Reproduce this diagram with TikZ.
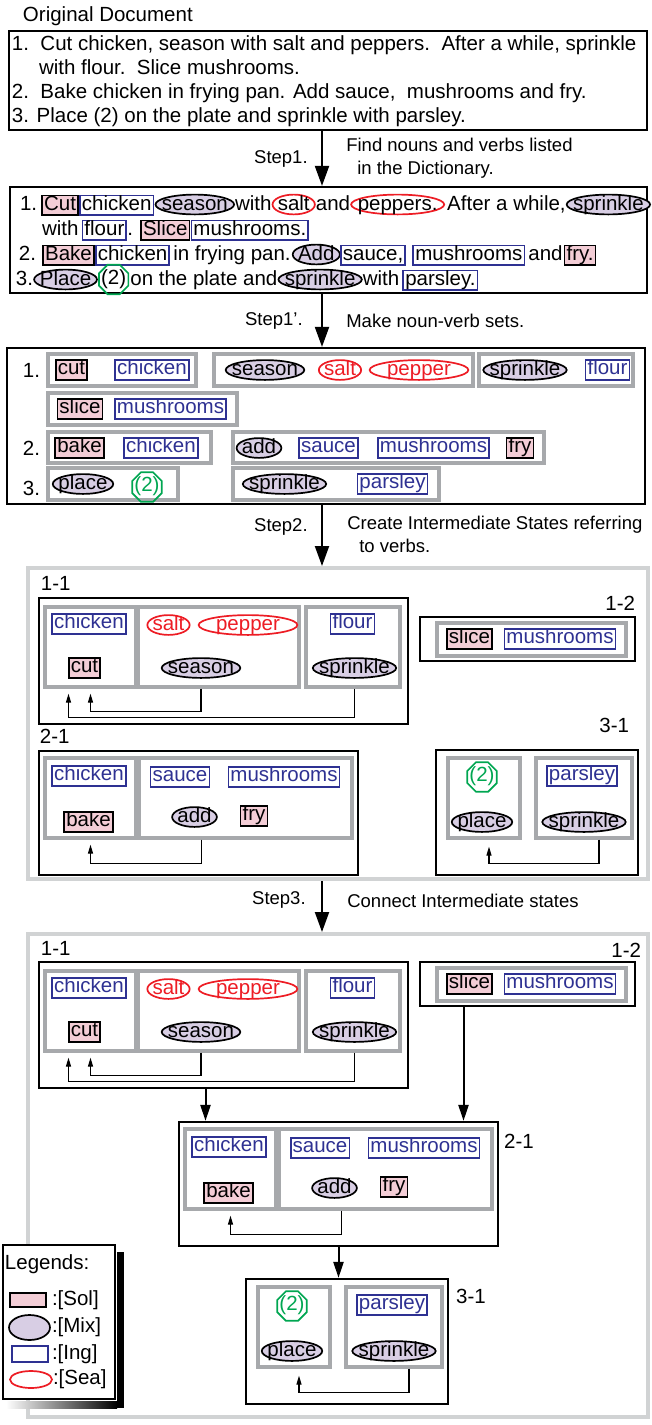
\documentclass[tikz,border=0pt]{standalone}
\usepackage{fontspec}
\setmainfont{Liberation Sans}
\usetikzlibrary{shapes.geometric, arrows.meta, positioning}
\definecolor{solpink}{RGB}{243,205,214}
\definecolor{mixlav}{RGB}{216,206,228}
\definecolor{ingblue}{RGB}{46,49,146}
\definecolor{seared}{RGB}{237,28,36}
\definecolor{numgreen}{RGB}{0,166,81}
\definecolor{grpgray}{RGB}{167,169,172}
\definecolor{framegray}{RGB}{209,211,212}
\newcommand{\nar}[1]{\makebox[0.75\width]{#1}}
\newcommand{\stepfont}{\fontsize{18.5}{23}\selectfont}
\tikzset{
  doc/.style={rectangle, draw, line width=2.2pt, inner sep=0pt},
  panel/.style={rectangle, draw=framegray, line width=4pt, inner sep=0pt},
  stbox/.style={rectangle, draw, line width=2.2pt, inner sep=0pt},
  grp/.style={rectangle, draw=grpgray, line width=3.2pt, inner sep=0pt},
  sol/.style={rectangle, draw, line width=1.7pt, fill=solpink, inner xsep=2pt,
    inner ysep=0.5pt, text height=14pt, text depth=4.5pt, outer sep=0pt},
  ing/.style={rectangle, draw=ingblue, text=ingblue, line width=1.7pt, inner xsep=2pt,
    inner ysep=0.5pt, text height=14pt, text depth=4.5pt, outer sep=0pt},
  mix/.style={ellipse, draw, line width=1.7pt, fill=mixlav, inner xsep=3pt,
    inner ysep=0.5pt, text height=12pt, text depth=1pt, outer sep=0pt},
  sea/.style={ellipse, draw=seared, text=seared, line width=1.7pt, inner xsep=3pt,
    inner ysep=0.5pt, text height=12pt, text depth=1pt, outer sep=0pt},
  num/.style={regular polygon, regular polygon sides=8, draw=numgreen, text=numgreen,
    line width=1.7pt, inner sep=1pt, text height=13pt, text depth=4pt, outer sep=0pt},
  bk/.style={text=black},
  txt/.style={inner sep=0pt, outer sep=0pt},
  swatch/.style={inner sep=0pt, text height=0pt, text depth=0pt},
  sz/.style 2 args={minimum width=#1pt, minimum height=#2pt},
  bigarr/.style={-{Triangle[length=20pt, width=14pt]}, line width=2pt},
  midarr/.style={-{Triangle[length=16pt, width=10pt]}, line width=2pt},
  arr/.style={-{Triangle[length=9pt, width=5pt]}, line width=1.2pt},
}

\begin{document}
\begin{tikzpicture}[x=1pt, y=-1pt, font=\fontsize{20.5}{24}\selectfont]
  \useasboundingbox (0,0) rectangle (651,1425);
  \coordinate (axis) at (322,0);

  % Original document
  \node[txt, anchor=base west] (title) at (23,21) {Original Document};
  \node[doc, sz={638}{99}] (orig) at (328,80.5) {};
  \node[txt, anchor=base west] (a1) at (12,50) {1.\ \ Cut chicken, season with salt and peppers.\ \ After a while, sprinkle};
  \node[txt, anchor=base west] (a2) at (39,74) {with flour.\ \ Slice mushrooms.};
  \node[txt, anchor=base west] (a3) at (12,98) {2.\ \ Bake chicken in frying pan. Add sauce,\ \ mushrooms and fry.};
  \node[txt, anchor=base west] (a4) at (12,122) {3. Place (2) on the plate and sprinkle with parsley.};

  % Marked document
  \node[doc, sz={637}{106}] (para) at (328.5,240) {};
  \node[txt, anchor=base west] (b1) at (20,210) {1.};
  \node[sol, base right=5pt of b1] (bcut) {Cut};
  \node[ing, bk, base right=2pt of bcut] (bchk) {chicken};
  \node[mix, base right=2pt of bchk] (bsea) {\nar{season}};
  \node[txt, base right=1pt of bsea] (bwith) {with};
  \node[sea, bk, base right=1pt of bwith] (bsalt) {\nar{salt}};
  \node[txt, base right=1pt of bsalt] (band) {and};
  \node[sea, bk, base right=1pt of band] (bpep) {\nar{peppers.}};
  \node[txt, base right=3pt of bpep] (baft) {After a while,};
  \node[mix, base right=1pt of baft] (bspr) {\nar{sprinkle}};

  \node[txt, anchor=base west] (bwith2) at (42,235) {with};
  \node[ing, bk, base right=4pt of bwith2] (bflo) {flour};
  \node[txt, base right=1pt of bflo] (bdot) {.};
  \node[sol, base right=8pt of bdot] (bsli) {Slice};
  \node[ing, bk, base right=2pt of bsli] (bmus) {mushrooms.};

  \node[txt, anchor=base west] (b2) at (19,260) {2.};
  \node[sol, base right=7pt of b2] (bbak) {Bake};
  \node[ing, bk, base right=2pt of bbak] (bchk2) {chicken};
  \node[txt, base right=4pt of bchk2] (bin) {in frying pan.};
  \node[mix, base right=2pt of bin] (badd) {\nar{Add}};
  \node[ing, bk, base right=1pt of badd] (bsau) {sauce,};
  \node[ing, bk, base right=8pt of bsau] (bmus2) {mushrooms};
  \node[txt, base right=4pt of bmus2] (band2) {and};
  \node[sol, base right=2pt of band2] (bfry) {fry.};

  \node[txt, anchor=base west] (b3) at (16,285) {3.};
  \node[mix, base right=1pt of b3] (bpla) {\nar{Place}};
  \node[num, bk, right=2pt of bpla] (btwo) {\nar{(2)}};
  \coordinate (bc) at (btwo.east |- bpla.base);
  \node[txt, anchor=base west] (bon) at ([xshift=2pt]bc) {on the plate and};
  \node[mix, base right=1pt of bon] (bspr2) {\nar{sprinkle}};
  \node[txt, base right=1pt of bspr2] (bwith3) {with};
  \node[ing, bk, base right=4pt of bwith3] (bpar) {parsley.};

  % Noun-verb sets
  \node[doc, sz={638}{156}] (sets) at (326,426) {};
  \node[txt, anchor=base west] (c1) at (23,377) {1.};
  \node[grp, sz={148}{32}] (g1) at (122,370) {};
  \node[sol] (ccut) at (71.5,370) {cut};
  \node[ing] (cchk) at (152,370) {chicken};
  \node[grp, sz={259}{32}] (g2) at (343.5,370) {};
  \node[mix] (csea) at (265,370) {\nar{season}};
  \node[sea] (csalt) at (340,370) {\nar{salt}};
  \node[sea] (cpep) at (419,370) {pepper};
  \node[grp, sz={154}{32}] (g3) at (556,370) {};
  \node[mix] (cspr) at (525,370) {\nar{sprinkle}};
  \node[ing] (cflo) at (607.5,370) {flour};
  \node[grp, sz={189}{32}] (g4) at (142.5,409) {};
  \node[sol] (csli) at (80,409) {slice};
  \node[ing] (cmus) at (170.5,409) {mushrooms};
  \node[txt, anchor=base west] (c2) at (23,455) {2.};
  \node[grp, sz={163}{31}] (g5) at (129.5,447.5) {};
  \node[sol] (cbak) at (79.5,448) {bake};
  \node[ing] (cchk2) at (161,448) {chicken};
  \node[grp, sz={311}{31}] (g6) at (388.5,447.5) {};
  \node[mix] (cadd) at (259,448) {\nar{add}};
  \node[ing] (csau) at (328.5,448) {sauce};
  \node[ing] (cmus2) at (433.5,448) {mushrooms};
  \node[sol] (cfry) at (520,448) {fry};
  \node[txt, anchor=base west] (c3) at (23,495) {3.};
  \node[grp, sz={130}{32}] (g7) at (113,484) {};
  \node[mix] (cpla) at (83,484) {\nar{place}};
  \node[num] (ctwo) at (147,487) {\nar{(2)}};
  \node[grp, sz={206}{32}] (g8) at (336,484) {};
  \node[mix] (cspr2) at (284.5,484) {\nar{sprinkle}};
  \node[ing] (cpar) at (392.5,484) {parsley};

  % Frames for intermediate states
  \node[panel, sz={620}{311}] (fd) at (338,723.5) {};
  \node[panel, sz={620}{483}] (fe) at (338,1175.5) {};

  % State 1-1
  \foreach \p/\dx/\dy in {d/0/0, e/0/364} {
    \begin{scope}[shift={(\dx,\dy)}]
      \node[stbox, sz={369}{126}] (\p11) at (223.5,661) {};
      \node[grp, sz={91}{80}] (\p11a) at (90.5,647) {};
      \node[grp, sz={161}{80}] (\p11b) at (218.5,647) {};
      \node[grp, sz={94}{80}] (\p11c) at (353,647) {};
      \node[ing] (\p11chk) at (89,624) {chicken};
      \node[sol] (\p11cut) at (84.5,668) {cut};
      \node[sea] (\p11salt) at (168.5,625) {\nar{salt}};
      \node[sea] (\p11pep) at (248,625) {pepper};
      \node[mix] (\p11sea) at (201,668) {\nar{season}};
      \node[ing] (\p11flo) at (352.5,624) {flour};
      \node[mix] (\p11spr) at (354.5,668) {\nar{sprinkle}};
      \draw[arr] (\p11sea |- \p11b.south) -- ++(0,23) -| ([yshift=-5pt]\p11a.south);
      \draw[arr] (\p11spr |- \p11c.south) -- ++(0,29) -| ([xshift=-22pt, yshift=-5pt]\p11a.south);
    \end{scope}
  }

  % State 1-2
  \foreach \p/\dx/\dy in {d/0/0, e/0/345} {
    \begin{scope}[shift={(\dx,\dy)}]
      \node[stbox, sz={215}{44}] (\p12) at (527.5,639) {};
      \node[grp, sz={189}{33}] (\p12a) at (531.5,639.5) {};
      \node[sol] (\p12sli) at (469.5,639) {slice};
      \node[ing] (\p12mus) at (560,639) {mushrooms};
    \end{scope}
  }

  % State 2-1
  \foreach \p/\dx/\dy in {d/0/0, e/140/371} {
    \begin{scope}[shift={(\dx,\dy)}]
      \node[stbox, sz={319}{124}] (\p21) at (198.5,813) {};
      \node[grp, sz={91}{80}] (\p21a) at (90.5,798) {};
      \node[grp, sz={213}{80}] (\p21b) at (245.5,798) {};
      \node[ing] (\p21chk) at (89,776) {chicken};
      \node[sol] (\p21bak) at (88.5,822) {bake};
      \node[ing] (\p21sau) at (180,777) {sauce};
      \node[ing] (\p21mus) at (284,777) {mushrooms};
      \node[mix] (\p21add) at (194.5,817) {\nar{add}};
      \node[sol] (\p21fry) at (254,816) {fry};
      \draw[arr] ([xshift=-44pt]\p21b.south) -- ++(0,24) -| ([yshift=-5pt]\p21a.south);
    \end{scope}
  }

  % State 3-1
  \foreach \p/\dx/\dy in {d/0/0, e/-190/529} {
    \begin{scope}[shift={(\dx,\dy)}]
      \node[stbox, sz={202}{125}] (\p31) at (537,812.5) {};
      \node[grp, sz={72}{80}] (\p31a) at (484,798) {};
      \node[grp, sz={96}{80}] (\p31b) at (584,798) {};
      \node[num] (\p31two) at (482,777) {\nar{(2)}};
      \node[mix] (\p31pla) at (482,822) {\nar{place}};
      \node[ing] (\p31par) at (582,776) {parsley};
      \node[mix] (\p31spr) at (584,822) {\nar{sprinkle}};
      \draw[arr] ([xshift=15pt]\p31b.south) -- ++(0,24) -| ([xshift=5pt, yshift=-7pt]\p31a.south);
    \end{scope}
  }

  % State labels
  \node[txt, anchor=base west] (ld11) at ([xshift=3pt, yshift=6pt]d11.north west) {1-1};
  \node[txt, anchor=base east] (ld12) at ([xshift=-1pt, yshift=5pt]d12.north east) {1-2};
  \node[txt, anchor=base west] (ld21) at ([xshift=2pt, yshift=6pt]d21.north west) {2-1};
  \node[txt, anchor=base east] (ld31) at ([xshift=-10pt, yshift=16pt]d31.north east) {3-1};
  \node[txt, anchor=base west] (le11) at ([xshift=3pt, yshift=5pt]e11.north west) {1-1};
  \node[txt, anchor=base east] (le12) at ([xshift=5pt, yshift=3pt]e12.north east) {1-2};
  \node[txt, anchor=base west] (le21) at ([xshift=5pt, yshift=-28pt]e21.north east) {2-1};
  \node[txt, anchor=base west] (le31) at ([xshift=7pt, yshift=-26pt]e31.north east) {3-1};

  % Connections between states
  \coordinate (j1) at ([xshift=-18pt]e11.south);
  \coordinate (j2) at ([xshift=-64pt]e12.south);
  \draw[midarr] (j1) -- (j1 |- e21.north);
  \draw[midarr] (j2) -- (j2 |- e21.north);
  \draw[midarr] (e21.south) -- (e21.south |- e31.north);

  % Steps
  \draw[bigarr] (orig.south -| axis) -- (para.north -| axis)
    node[midway, left=10pt, font=\stepfont] (s1) {Step1.}
    node[midway, right=20pt, align=left, font=\stepfont] (s1d) {Find nouns and verbs listed\\\hspace*{11pt}in the Dictionary.};
  \draw[bigarr] (para.south -| axis) -- (sets.north -| axis)
    node[midway, left=15pt, font=\stepfont] (s1p) {Step1'.}
    node[midway, right=20pt, font=\stepfont] (s1pd) {Make noun-verb sets.};
  \draw[bigarr] (sets.south -| axis) -- (fd.north -| axis)
    node[pos=0.36, left=10pt, font=\stepfont] (s2) {Step2.}
    node[pos=0.48, right=21pt, align=left, font=\stepfont] (s2d) {Create Intermediate States referring\\\hspace*{12pt}to verbs.};
  \draw[bigarr] (fd.south -| axis) -- (fe.north -| axis)
    node[pos=0.38, left=12pt, font=\stepfont] (s3) {Step3.}
    node[pos=0.38, right=21pt, font=\stepfont] (s3d) {Connect Intermediate states};

  % Legends
  \node[doc, fill=white, line width=2pt, sz={112}{154}] (leg) at (59,1322) {};
  \fill ([xshift=1pt, yshift=-8pt]leg.north east) rectangle ([xshift=8pt, yshift=-8pt]leg.south east);
  \shade[left color=white, right color=black] ([xshift=4pt, yshift=-1pt]leg.south west) rectangle ([xshift=1pt, yshift=-8pt]leg.south east);
  \node[txt, anchor=base west] (legt) at ([xshift=3pt, yshift=-25pt]leg.north west) {Legends:};
  \node[sol, swatch, sz={36}{14}] (lsol) at (28,1300) {};
  \node[mix, swatch, sz={41}{25}] (lmix) at (29.5,1327.5) {};
  \node[ing, swatch, sz={36}{16}] (ling) at (30,1354) {};
  \node[sea, swatch, sz={42}{17}] (lsea) at (31,1379.5) {};
  \node[txt, right=6pt of lsol] (lsolt) {:[Sol]};
  \node[txt, right=2pt of lmix] (lmixt) {:[Mix]};
  \node[txt, right=4pt of ling] (lingt) {:[Ing]};
  \node[txt, right=1pt of lsea] (lseat) {:[Sea]};
\end{tikzpicture}
\end{document}
